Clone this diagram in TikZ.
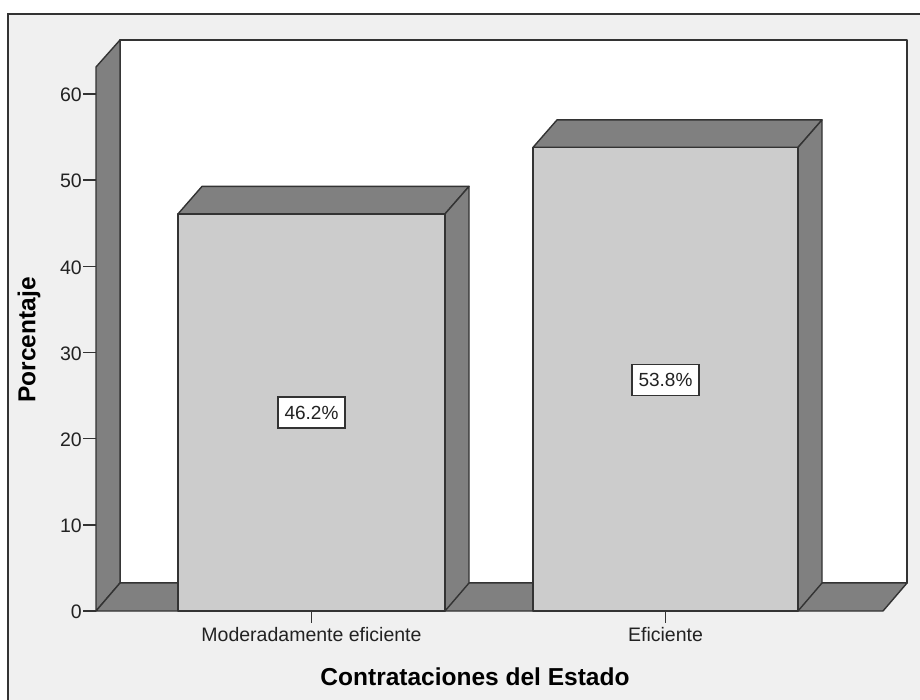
\documentclass[tikz,border=0pt]{standalone}
\usepackage{fontspec}
\setmainfont{Liberation Sans}
\definecolor{panel}{HTML}{F0F0F0}
\definecolor{wall}{HTML}{808080}
\definecolor{barfront}{HTML}{CCCCCC}
\definecolor{edge}{HTML}{333333}
\definecolor{txt}{HTML}{222222}
\begin{document}
\begin{tikzpicture}[x=1pt,y=-1pt,
  outl/.style={draw=edge,line width=1.4pt,line join=round},
  wallfill/.style={outl,fill=wall},
  frontfill/.style={outl,fill=barfront},
  ticklab/.style={font=\fontsize{19.5}{22}\selectfont,text=txt,inner sep=0pt},
  axtitle/.style={font=\fontsize{24.5}{28}\selectfont\bfseries,text=black,inner sep=0pt},
  pctbox/.style={draw=edge,fill=white,line width=1.3pt,font=\fontsize{19}{22}\selectfont,text=txt,minimum width=67pt,minimum height=31pt,inner sep=0pt},
  tickline/.style={draw=edge,line width=1.4pt}]
\useasboundingbox (0,0) rectangle (920,699);
\fill[white] (0,0) rectangle (920,699);
\begin{scope}
\clip (0,0) rectangle (920,699);
\draw[fill=panel,draw=edge,line width=1.5pt] (8,14) rectangle (940,720);
\end{scope}
% back wall
\draw[outl,fill=white] (120,40) rectangle (907,583);
% left wall
\draw[wallfill] (96,611) -- (96,67) -- (120,40) -- (120,583) -- cycle;
% floor
\draw[wallfill] (96,611) -- (883,611) -- (907,583) -- (120,583) -- cycle;
% bar 1 (46.2)
\def\ya{213.9}
\draw[wallfill] (178,\ya) -- (202,186.4) -- (469,186.4) -- (445,\ya) -- cycle;
\draw[wallfill] (445,611) -- (469,583) -- (469,186.4) -- (445,\ya) -- cycle;
\draw[frontfill] (178,611) rectangle (445,\ya);
% bar 2 (53.8)
\def\yb{147.4}
\draw[wallfill] (533,\yb) -- (557,119.9) -- (822,119.9) -- (798,\yb) -- cycle;
\draw[wallfill] (798,611) -- (822,583) -- (822,119.9) -- (798,\yb) -- cycle;
\draw[frontfill] (533,611) rectangle (798,\yb);
% y ticks
\foreach \v/\n in {0/t0,10/t1,20/t2,30/t3,40/t4,50/t5,60/t6}{
  \coordinate (\n a) at (83,{611-8.617*\v});
  \coordinate (\n b) at (96,{611-8.617*\v});
  \draw[tickline] (\n a) -- (\n b);
  \node[ticklab,anchor=east] (\n l) at (82,{611-8.617*\v+1}) {\v};
}
% x ticks
\coordinate (xa1) at (311.5,611); \coordinate (xb1) at (311.5,623);
\coordinate (xa2) at (665.5,611); \coordinate (xb2) at (665.5,623);
\draw[tickline] (xa1) -- (xb1);
\draw[tickline] (xa2) -- (xb2);
\node[ticklab] (cat1) at (311.5,635) {Moderadamente eficiente};
\node[ticklab] (cat2) at (665.5,635) {Eficiente};
% percentage labels
\node[pctbox] (p1) at (311.5,412.5) {46.2\%};
\node[pctbox] (p2) at (665.5,380) {53.8\%};
% axis titles
\node[axtitle] (xt) at (475,677) {Contrataciones del Estado};
\node[axtitle,rotate=90] (yt) at (29,340) {Porcentaje};
\end{tikzpicture}
\end{document}
